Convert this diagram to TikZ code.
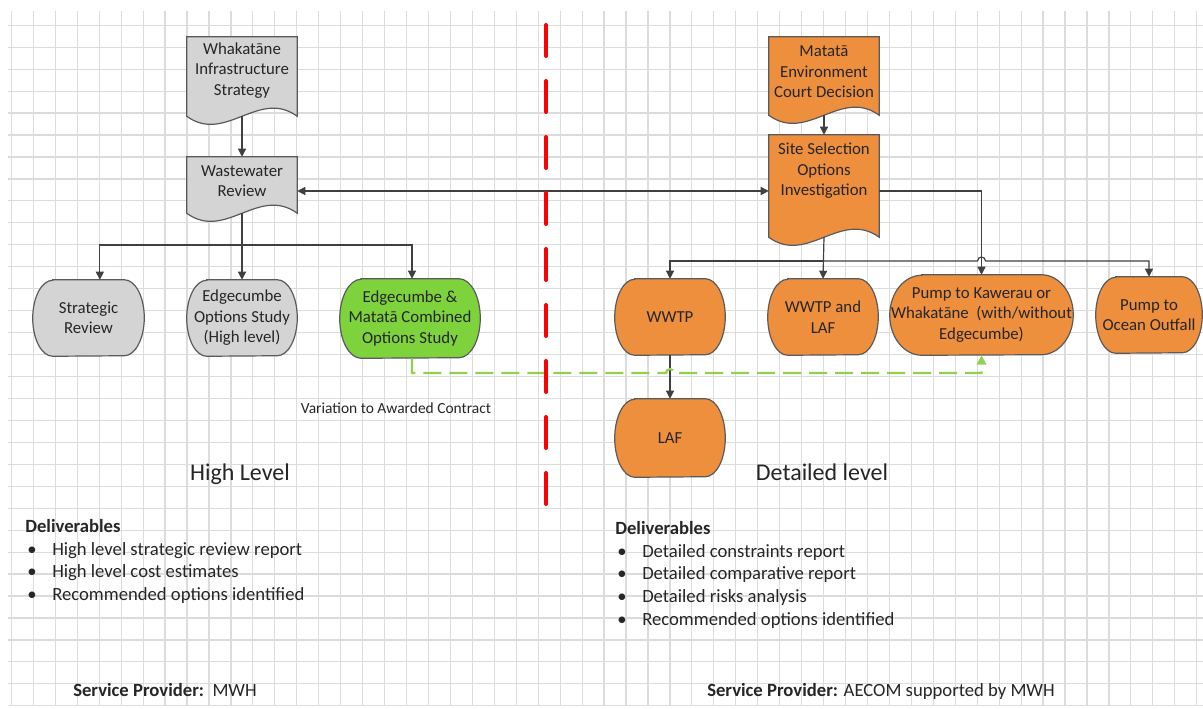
\documentclass[tikz,border=0pt]{standalone}
\usepackage{fontspec}
\setmainfont{Carlito}
\usepackage{tikz}
\usetikzlibrary{arrows.meta, positioning, calc, backgrounds}
\pgfdeclarelayer{grid}
\pgfsetlayers{grid,background,main}

\definecolor{boxgray}{HTML}{D4D4D4}
\definecolor{boxorange}{HTML}{EE8F3E}
\definecolor{boxgreen}{HTML}{7ED23C}
\definecolor{linkgreen}{HTML}{92D050}
\definecolor{edgegray}{HTML}{5A5A5A}
\definecolor{linegray}{HTML}{404040}
\definecolor{textgray}{HTML}{262626}
\definecolor{gridgray}{HTML}{DCDCDC}

\newcommand{\boxfont}{\fontsize{12.6}{15.4}\selectfont}
\newcommand{\blt}{\makebox[20.25pt][l]{\hspace{1.5pt}•}}

% document shape with a wavy bottom, drawn round a node
\newcommand{\docshape}[2]{%
  \draw[shapeline, fill=#2] (#1.north west) -- (#1.north east) -- (#1.south east)
    .. controls ($(#1.south east)!0.35!(#1.south west)+(0,-28)$)
       and ($(#1.south east)!0.65!(#1.south west)+(0,28)$) .. (#1.south west) -- cycle;}

% option shape with half-ellipse ends, drawn round a node
\newcommand{\optshape}[4]{%
  \draw[shapeline, fill=#2] ($(#1.north west)+(#3,0)$) -- ($(#1.north east)+(-#3,0)$)
    arc[start angle=90, end angle=-90, x radius=#3, y radius=#4]
    -- ($(#1.south west)+(#3,0)$)
    arc[start angle=270, end angle=90, x radius=#3, y radius=#4] -- cycle;}

\begin{document}
\begin{tikzpicture}[x=0.75pt, y=-0.75pt,
    shapeline/.style={draw=edgegray, line width=0.9pt},
    docbox/.style={minimum width=82.5pt, inner sep=0pt, align=center, text=textgray, font=\boxfont},
    optbox/.style={minimum width=82.5pt, minimum height=57pt, inner sep=0pt, align=center, text=textgray, font=\boxfont},
    arrow/.style={-{Triangle[length=6pt, width=6pt]}, line width=0.9pt, draw=linegray},
    dblarrow/.style={{Triangle[length=6pt, width=6pt]}-{Triangle[length=6pt, width=6pt]}, line width=0.9pt, draw=linegray},
    variation/.style={-{Triangle[length=7pt, width=7pt]}, line width=1.6pt, draw=linkgreen, dash pattern=on 13.5pt off 6pt},
    divider/.style={draw=red, line width=3pt, line cap=round, dash pattern=on 23.25pt off 18.75pt},
    gridline/.style={draw=gridgray, line width=0.9pt},
    deliv/.style={inner sep=0pt, align=left, text=textgray, font=\fontsize{14}{17}\selectfont},
    heading/.style={inner sep=0pt, text=textgray, font=\fontsize{18}{22}\selectfont}
  ]
  \useasboundingbox (0,0) rectangle (1203,709);

  % Squared paper
  \begin{pgfonlayer}{grid}
    \fill[white] (0,0) rectangle (1203,709);
    \foreach \k in {0,...,54}
      \draw[gridline] ({11.4+21.95*\k},11) -- ({11.4+21.95*\k},706);
    \foreach \k in {0,...,31}
      \draw[gridline] (8,{25.3+21.95*\k}) -- (1203,{25.3+21.95*\k});
  \end{pgfonlayer}

  % Rows for the connectors
  \coordinate (rowL) at (0,245);
  \coordinate (rowM) at (0,191);
  \coordinate (rowR) at (0,261);
  \coordinate (rowG) at (0,373);

  % High level side
  \node[docbox, minimum height=59.25pt, text depth=11pt] (wis) at (242,76.5) {Whakatāne\\Infrastructure\\Strategy};
  \node[docbox, minimum height=42pt, text depth=6pt] (wwr) at (242,185) {Wastewater\\Review};
  \node[optbox, minimum width=83.25pt] (str) at (88.5,318) {Strategic\\Review};
  \node[optbox] (eos) at (242,318) {Edgecumbe\\Options Study\\(High level)};
  \node[optbox, minimum width=105pt, minimum height=59.25pt] (cmb) at (410,318.5) {Edgecumbe \&\\Matatā Combined\\Options Study};

  % Detailed level side
  \node[docbox, minimum height=58.5pt, text depth=6pt] (mec) at (824,76) {Matatā\\Environment\\Court Decision};
  \node[docbox, minimum height=76.5pt, text depth=25pt] (ssi) at (824,186) {Site Selection\\Options\\Investigation};
  \node[optbox] (wtp) at (670,317) {WWTP};
  \node[optbox] (wtl) at (823,317) {WWTP and\\LAF};
  \node[optbox, minimum width=137.25pt, minimum height=60pt] (pkw) at (981.5,315) {Pump to Kawerau or\\Whakatāne\ \ (with/without\\Edgecumbe)};
  \node[optbox, minimum width=79.5pt] (ocn) at (1149,315) {Pump to\\Ocean Outfall};
  \node[optbox, minimum height=58.5pt] (laf) at (670,438) {LAF};

  % Shapes behind the texts
  \begin{pgfonlayer}{background}
    \docshape{wis}{boxgray}
    \docshape{wwr}{boxgray}
    \docshape{mec}{boxorange}
    \docshape{ssi}{boxorange}
    \optshape{str}{boxgray}{15pt}{28.5pt}
    \optshape{eos}{boxgray}{15pt}{28.5pt}
    \optshape{cmb}{boxgreen}{16pt}{29.625pt}
    \optshape{wtp}{boxorange}{15pt}{28.5pt}
    \optshape{wtl}{boxorange}{15pt}{28.5pt}
    \optshape{pkw}{boxorange}{24pt}{30pt}
    \optshape{ocn}{boxorange}{15pt}{28.5pt}
    \optshape{laf}{boxorange}{15pt}{29.25pt}
  \end{pgfonlayer}

  % Arrows
  \draw[arrow] (wis) -- (wwr);
  \draw[arrow] (wwr.south) -- (eos.north);
  \draw[arrow] (wwr.south |- rowL) -| ([xshift=8.5pt]str.north);
  \draw[arrow] (wwr.south |- rowL) -| ([xshift=1.5pt]cmb.north);
  \draw[dblarrow] (wwr.east |- rowM) -- (ssi.west |- rowM);
  \draw[arrow] (mec) -- (ssi);
  \draw[arrow] (ssi.east |- rowM) -| (pkw.north);
  \draw[arrow] (ssi.south) -- (wtl.north);
  \draw[arrow] (ssi.south |- rowR) -| (wtp.north);
  \draw[arrow] (ssi.south |- rowR) -- ([xshift=-3pt]pkw.north |- rowR)
    arc[start angle=180, end angle=0, radius=3pt] -| (ocn.north);
  \draw[arrow] (wtp) -- (laf);
  \draw[variation] ([xshift=1.5pt]cmb.south) |- ([xshift=-3pt]wtp.south |- rowG)
    arc[start angle=180, end angle=0, radius=3pt] -| (pkw.south);

  % Divider
  \draw[divider] (546,25) -- (546,506);

  % Labels
  \node[inner sep=0pt, text=textgray, font=\fontsize{11.6}{14}\selectfont, anchor=base] (var) at (396,413) {Variation to Awarded Contract};
  \node[heading, anchor=base] (hlv) at (240,480) {High Level};
  \node[heading, anchor=base] (dlv) at (822,480) {Detailed level};

  % Deliverables
  \node[deliv, anchor=north west] (delh) at (25,519) {\textbf{Deliverables}\\
    \blt High level strategic review report\\
    \blt High level cost estimates\\
    \blt Recommended options identified};
  \node[deliv, anchor=north west] (deld) at (615,521) {\textbf{Deliverables}\\
    \blt Detailed constraints report\\
    \blt Detailed comparative report\\
    \blt Detailed risks analysis\\
    \blt Recommended options identified};

  % Service providers
  \node[deliv, anchor=base west] (sph) at (73,696) {\textbf{Service Provider:}\ \ MWH};
  \node[deliv, anchor=base west] (spd) at (707,696) {\textbf{Service Provider:} AECOM supported by MWH};
\end{tikzpicture}
\end{document}
